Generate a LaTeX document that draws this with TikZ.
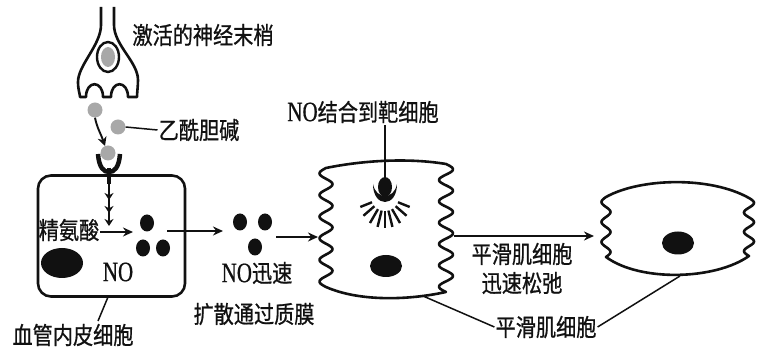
\documentclass[tikz,border=0pt]{standalone}
\usepackage{fontspec}
\setmainfont{Liberation Serif}[FakeStretch=0.75,FakeBold=0.6]
\newfontfamily\cjk{Noto Sans CJK SC}[FakeStretch=0.84,FakeBold=0.8]
\newcommand{\zh}[1]{{\cjk #1}}
\newcommand{\chem}[1]{{\fontsize{28}{28}\selectfont #1}}
\usetikzlibrary{arrows.meta,shapes.geometric}
\definecolor{achgray}{RGB}{168,168,168}
\definecolor{ink}{RGB}{17,17,17}
\begin{document}
\begin{tikzpicture}[x=1pt,y=-1pt,
  cell/.style={draw=ink,line width=2.6pt,line join=round},
  conn/.style={draw=ink,line width=1.5pt},
  arr/.style={draw=ink,line width=1.7pt,-{Stealth[length=10pt,width=9pt]}},
  lbl/.style={inner sep=1pt,text=ink,font=\fontsize{24}{28}\selectfont},
  achdot/.style={circle,fill=achgray,minimum size=15pt,inner sep=0pt},
  nodot/.style={ellipse,fill=ink,minimum width=14pt,minimum height=17pt,inner sep=0pt},
  nucleus/.style={fill=ink},
]
\useasboundingbox (0,0) rectangle (766,347);

% ---------------- activated nerve ending ----------------
\draw[cell] (101,7) -- (101,25)
  .. controls (101,45) and (78,65) .. (78,82)
  .. controls (78,90) and (80,94) .. (80,97) -- (86,97)
  .. controls (86,80) and (103,80) .. (103,97) -- (111,97)
  .. controls (111,80) and (128,80) .. (128,97) -- (137,97)
  .. controls (137,93) and (138,86) .. (138,80)
  .. controls (138,62) and (114,45) .. (114,25) -- (114,7);
\draw[draw=ink,line width=2.4pt] (108,57) ellipse [x radius=11, y radius=15];
\fill[achgray] (108,57) ellipse [x radius=7, y radius=10];
\node[lbl] (nerve) at (203,35) {\zh{激活的神经末梢}};

% acetylcholine released into the cleft
\node[achdot] (ach1) at (95,110) {};
\node[achdot] (ach2) at (118,127) {};
\node[achdot] (ach3) at (108,153) {};
\node[lbl] (achl) at (199,130) {\zh{乙酰胆碱}};
\draw[conn] (ach2.east) -- (achl.west);
\coordinate (achtip) at (105,146);
\draw[draw=ink,line width=1.9pt,-{Stealth[length=9pt,width=9pt]}]
  (ach1.south) .. controls (97,128) and (101,134) .. (achtip);

% receptor on the endothelial cell
\draw[draw=ink,line width=4.5pt] (98,154) .. controls (99,168) and (104,172) .. (109,172)
  .. controls (114,172) and (119,168) .. (120,154);
\draw[draw=ink,line width=4.5pt] (109,168) -- (109,184);

% ---------------- endothelial cell ----------------
\node[cell,rounded corners=13pt,minimum width=147pt,minimum height=121pt,inner sep=0pt]
  (endo) at (111.5,236) {};
\coordinate (sigtop) at (109,184);
\coordinate (sigbot) at (109,226);
\draw[draw=ink,line width=1.6pt,
  -{Stealth[length=7pt,width=9pt,sep=6pt]Stealth[length=7pt,width=9pt,sep=6pt]Stealth[length=7pt,width=9pt]}]
  (sigtop) -- (sigbot);
\node[lbl] (arg) at (69,230) {\zh{精氨酸}};
\coordinate (argend) at (133,232);
\draw[arr] (arg.east |- argend) -- (argend);
\node[nodot] (no1) at (147,223) {};
\node[nodot] (no2) at (143,248) {};
\node[nodot] (no3) at (163,248) {};
\fill[nucleus] (62,263) ellipse [x radius=21, y radius=15];
\node[lbl] (nolbl) at (118,272) {\chem{NO}};

\coordinate (endofoot) at (108,297);
\node[lbl] (endolbl) at (73,335) {\zh{血管内皮细胞}};
\coordinate (endotag) at (98,321);
\draw[conn] (endofoot) -- (endotag);

% NO leaving the endothelial cell
\coordinate (noexit) at (167,231);
\coordinate (noout) at (223,231);
\draw[arr] (noexit) -- (noout);
\node[nodot] (no4) at (240,222) {};
\node[nodot] (no5) at (265,222) {};
\node[nodot] (no6) at (255,247) {};
\coordinate (diffstart) at (276,237);
\coordinate (diffend) at (318,237);
\draw[arr] (diffstart) -- (diffend);
\node[lbl] (diff1) at (257,273) {\chem{NO}\zh{迅速}};
\node[lbl] (diff2) at (254,314) {\zh{扩散通过质膜}};

% ---------------- target smooth muscle cell ----------------
\draw[cell] (326,168) .. controls (365,160) and (410,158) .. (446,164)
  -- plot[domain=0:1,samples=121,smooth,variable=\t] ({446+7*sin(6*360*\t)},{164+128*\t})
  .. controls (410,300) and (360,302) .. (326,287)
  -- plot[domain=1:0,samples=111,smooth,variable=\t] ({326-6.5*sin(5.5*360*\t)},{168+119*\t})
  -- cycle;
\fill[nucleus] (386,266) ellipse [x radius=16, y radius=11];

% NO binding site
\node[nodot,minimum width=14pt,minimum height=20pt] (bind) at (385,187) {};
\fill[ink] (373,184) .. controls (373,208) and (397,208) .. (397,184)
  .. controls (394,200) and (376,200) .. (373,184) -- cycle;
\foreach \a in {22,41,60,76,90,104,120,139,158}
  \draw[draw=ink,line width=2.4pt]
    ({385+14*cos(\a)},{197+14*sin(\a)}) -- ({385+(24+7*sin(\a))*cos(\a)},{197+(24+7*sin(\a))*sin(\a)});
\node[lbl] (bindl) at (363,112) {\chem{NO}\zh{结合到靶细胞}};
\coordinate (bindtag) at (385,125);
\draw[conn] (bindtag) -- (bind.north);

% relaxation
\coordinate (relaxstart) at (454,236);
\coordinate (relaxend) at (594,236);
\draw[arr] (relaxstart) -- (relaxend);
\node[lbl] (relax1) at (522,254) {\zh{平滑肌细胞}};
\node[lbl] (relax2) at (522,283) {\zh{迅速松弛}};

% ---------------- relaxed smooth muscle cell ----------------
\draw[cell] (606,197) .. controls (640,178) and (710,176) .. (749,198)
  -- plot[domain=0:1,samples=61,smooth,variable=\t] ({749+5*sin(3*360*\t)},{198+58*\t})
  .. controls (715,280) and (640,282) .. (606,257)
  -- plot[domain=1:0,samples=61,smooth,variable=\t] ({606-4.5*sin(3*360*\t)},{197+60*\t})
  -- cycle;
\fill[nucleus] (678,243) ellipse [x radius=16, y radius=11.5];

% shared label for both smooth muscle cells
\node[lbl] (smc) at (546,327) {\zh{平滑肌细胞}};
\coordinate (tcfoot) at (423,296);
\coordinate (rcfoot) at (680,276);
\draw[conn] (tcfoot) -- (smc.west);
\draw[conn] (smc.east) -- (rcfoot);
\end{tikzpicture}
\end{document}
